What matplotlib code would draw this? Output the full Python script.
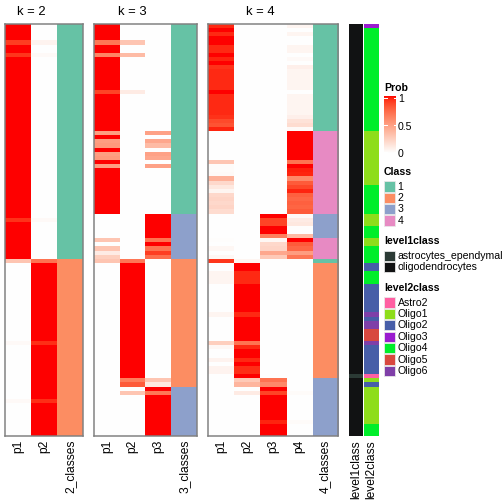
import numpy as np
import matplotlib
matplotlib.use("Agg")
import matplotlib.pyplot as plt
from matplotlib.patches import Rectangle

plt.rcParams['font.family'] = ['Liberation Sans', 'DejaVu Sans']

# ---------------- data (run-length: (value, number of rows)) ----------------
k2_p1 = [(1, 4), (0.9, 1), (1, 2), (0.92, 1), (1, 39), (0.93, 1), (1, 9), (0.3, 1),
         (0, 19), (0.03, 1), (0, 13), (0.03, 1), (0, 8)]
k2_p2 = [(0, 4), (0.06, 1), (0, 2), (0.03, 1), (0, 39), (0.03, 1), (0, 9), (0.7, 1),
         (1, 19), (0.94, 1), (1, 13), (0.94, 1), (1, 8)]
k2_class = [(1, 57), (2, 43)]

k3_p1 = [(1, 4), (0.68, 1), (1, 2), (0.62, 1), (1, 8), (0.88, 1), (1, 9), (0.5, 1), (1, 1),
         (0.5, 1), (0.52, 1), (1, 1), (0.5, 1), (0.52, 1), (1, 1), (0.5, 1), (1, 11), (0, 6),
         (0.3, 1), (0, 1), (0.3, 1), (0.1, 1), (0.25, 1), (0.3, 1), (0, 42)]
k3_p2 = [(0, 4), (0.3, 1), (0, 2), (0.35, 1), (0, 8), (0.1, 1), (0, 40), (0.68, 1), (1, 28),
         (0.65, 1), (0.8, 1), (0, 1), (0.3, 1), (0, 10)]
k3_p3 = [(0, 26), (0.48, 1), (0, 1), (0.45, 1), (0.35, 1), (0, 1), (0.48, 1), (0.45, 1), (0, 1),
         (0.48, 1), (0, 11), (1, 6), (0.7, 1), (1, 1), (0.7, 1), (0.9, 1), (0.72, 1), (0, 29),
         (0.3, 1), (0.12, 1), (1, 1), (0.68, 1), (1, 10)]
k3_class = [(1, 46), (3, 11), (2, 31), (3, 12)]

k4_p1 = [(0.95, 1), (1, 1), (0.95, 1), (1, 2), (0.95, 2), (1, 1), (0.96, 1), (1, 1), (0.93, 1),
         (0.95, 5), (1, 1), (0.95, 5), (0.93, 1), (0.86, 1), (0.83, 1), (0.96, 1),
         (0, 7), (0.3, 1), (0.02, 2), (0.03, 1), (0.4, 1), (0.2, 1), (0.12, 1), (0.05, 1),
         (0.2, 1), (0.22, 1), (0.2, 1), (0.22, 1), (0.18, 1),
         (0, 6), (0.01, 1), (0, 1), (0.04, 1), (0, 1), (0.04, 1), (0.92, 1), (0, 2), (0.05, 3),
         (0, 7), (0.05, 1), (0, 6), (0.25, 1), (0.04, 1), (0, 2), (0.06, 1), (0, 1), (0.06, 2),
         (0, 15)]
k4_p2 = [(0, 57), (0.05, 1), (1, 2), (0.95, 3), (1, 7), (0.95, 1), (1, 6), (0.7, 1), (0.95, 1),
         (1, 2), (0.95, 1), (1, 1), (0.94, 2), (1, 1), (0.28, 1), (0.38, 1), (0, 1), (0.1, 1),
         (0, 10)]
k4_p3 = [(0, 46), (1, 1), (0.88, 2), (1, 2), (0.65, 1), (0.04, 1), (0.2, 1), (0.22, 1),
         (0.45, 1), (0.28, 1), (0, 29), (0.7, 1), (0.6, 1), (1, 1), (0.88, 1), (1, 6),
         (0.96, 1), (1, 3)]
k4_p4 = [(0.05, 1), (0, 1), (0.05, 1), (0, 2), (0.05, 2), (0, 1), (0.03, 1), (0, 1), (0.08, 1),
         (0.05, 5), (0, 1), (0.05, 5), (0.08, 1), (0.15, 1), (0.18, 1), (0.03, 1),
         (1, 7), (0.7, 1), (1, 1), (0.97, 1), (0.96, 1), (0.6, 1), (0.8, 1), (0.87, 1),
         (0.96, 1), (0.78, 1), (0.75, 1), (0.78, 1), (0.76, 1), (0.8, 1),
         (0.03, 1), (0.1, 1), (0.12, 1), (0.01, 1), (0, 1), (0.35, 1),
         (1, 1), (0.8, 1), (0.75, 1), (0.5, 1), (0.68, 1),
         (0, 32), (0.02, 1), (0, 6), (0.02, 1), (0, 3)]
k4_class = [(1, 26), (4, 20), (3, 6), (4, 5), (1, 1), (2, 28), (3, 14)]

level1 = [("oligodendrocytes", 85), ("astrocytes_ependymal", 1), ("oligodendrocytes", 14)]
level2 = [("Oligo3", 1), ("Oligo4", 25), ("Oligo1", 13), ("Oligo4", 7), ("Oligo1", 3),
          ("Oligo4", 3), ("Oligo1", 2), ("Oligo4", 4), ("Oligo2", 2), ("Oligo4", 3),
          ("Oligo2", 7), ("Oligo6", 1), ("Oligo2", 1), ("Oligo6", 2), ("Oligo5", 3),
          ("Oligo6", 1), ("Oligo2", 7), ("Astro2", 1), ("Oligo1", 1), ("Oligo2", 1),
          ("Oligo1", 9), ("Oligo4", 3)]

class_labels = ["1", "2", "3", "4"]
level1_labels = ["astrocytes_ependymal", "oligodendrocytes"]
level2_labels = ["Astro2", "Oligo1", "Oligo2", "Oligo3", "Oligo4", "Oligo5", "Oligo6"]

# ---------------- styles ----------------
class_colors = {1: "#66C2A5", 2: "#FC8D62", 3: "#8DA0CB", 4: "#E78AC3"}
level1_colors = {"astrocytes_ependymal": "#2B3A35", "oligodendrocytes": "#111213"}
level2_colors = {"Astro2": "#FF5FA2", "Oligo1": "#8EDD1B", "Oligo2": "#475EA8",
                 "Oligo3": "#9A1BCF", "Oligo4": "#00EE2A", "Oligo5": "#D8483F",
                 "Oligo6": "#7F3FA8"}


def expand(pairs):
    return [v for v, n in pairs for _ in range(n)]


# white -> red colour ramp interpolated in CIE Lab (like colorRamp2)
_M = np.array([[0.4124, 0.3576, 0.1805], [0.2126, 0.7152, 0.0722], [0.0193, 0.1192, 0.9505]])
_WP = _M.sum(1)


def _lin(c):
    c = np.asarray(c, float)
    return np.where(c <= 0.04045, c / 12.92, ((c + 0.055) / 1.055) ** 2.4)


def _gam(c):
    c = np.clip(c, 0, 1)
    return np.where(c <= 0.0031308, 12.92 * c, 1.055 * c ** (1 / 2.4) - 0.055)


def _f(t):
    d = 6 / 29
    return np.where(t > d ** 3, np.cbrt(t), t / (3 * d * d) + 4 / 29)


def _finv(t):
    d = 6 / 29
    return np.where(t > d, t ** 3, 3 * d * d * (t - 4 / 29))


def to_lab(rgb):
    xyz = _M @ _lin(rgb) / _WP
    fx, fy, fz = _f(xyz)
    return np.array([116 * fy - 16, 500 * (fx - fy), 200 * (fy - fz)])


def prob_color(v):
    v = np.atleast_1d(np.asarray(v, float))
    l0 = to_lab([1, 1, 1])
    l1 = to_lab([1, 0, 0])
    lab = l0[:, None] * (1 - v) + l1[:, None] * v
    L, a, b = lab
    fy = (L + 16) / 116
    xyz = np.array([_finv(fy + a / 500), _finv(fy), _finv(fy - b / 200)]) * _WP[:, None]
    rgb = np.linalg.solve(_M, xyz)
    return _gam(rgb).T


def hexrgb(h):
    h = h.lstrip("#")
    return [int(h[i:i + 2], 16) / 255 for i in (0, 2, 4)]


W = H = 504
fig = plt.figure(figsize=(7, 7), dpi=72)
TOP, BOT = 24, 436


def ax_px(x0, x1, y0, y1):
    return fig.add_axes([x0 / W, 1 - y1 / H, (x1 - x0) / W, (y1 - y0) / H])


panels = [
    ("k = 2", [k2_p1, k2_p2], k2_class, ["p1", "p2", "2_classes"], 5, 83),
    ("k = 3", [k3_p1, k3_p2, k3_p3], k3_class, ["p1", "p2", "p3", "3_classes"], 94, 197),
    ("k = 4", [k4_p1, k4_p2, k4_p3, k4_p4], k4_class, ["p1", "p2", "p3", "p4", "4_classes"], 208, 338),
]

for title, probs, cls, labels, x0, x1 in panels:
    cols = [prob_color(expand(p)) for p in probs]
    cols.append(np.array([hexrgb(class_colors[c]) for c in expand(cls)]))
    img = np.stack(cols, axis=1)
    n = img.shape[0]
    nc = img.shape[1]
    ax = ax_px(x0, x1, TOP, BOT)
    ax.imshow(img, aspect="auto", interpolation="nearest", extent=(0, nc, n, 0))
    ax.set_xlim(0, nc)
    ax.set_ylim(n, 0)
    ax.set_yticks([])
    ax.set_xticks(np.arange(nc) + 0.5)
    ax.set_xticklabels(labels, rotation=90, fontsize=12)
    ax.tick_params(axis="x", length=0, pad=4)
    for s in ax.spines.values():
        s.set_color("#808080")
        s.set_linewidth(1.5)
    # title centred over the probability columns
    xc = x0 + (x1 - x0) * (nc - 1) / nc / 2
    fig.text(xc / W, 1 - 12 / H, title, ha="center", va="center", fontsize=13)

for name, runs_, cmap_, x0, x1 in [
    ("level1class", level1, level1_colors, 349, 363),
    ("level2class", level2, level2_colors, 364, 379),
]:
    img = np.array([hexrgb(cmap_[v]) for v in expand(runs_)])[:, None, :]
    ax = ax_px(x0, x1, TOP, BOT)
    ax.imshow(img, aspect="auto", interpolation="nearest", extent=(0, 1, img.shape[0], 0))
    ax.set_yticks([])
    ax.set_xticks([0.5])
    ax.set_xticklabels([name], rotation=90, fontsize=12)
    ax.tick_params(axis="x", length=0, pad=4)
    for s in ax.spines.values():
        s.set_visible(False)

# ---------------- legends ----------------
lg = fig.add_axes([0, 0, 1, 1])
lg.set_xlim(0, W)
lg.set_ylim(H, 0)
lg.axis("off")
lg.patch.set_visible(False)

LX = 384
FS = 10.5
lg.text(LX, 88, "Prob", fontsize=FS, fontweight="bold", va="center", ha="left")
grad = prob_color(np.linspace(1, 0, 200))[:, None, :]
lg.imshow(grad, extent=(LX, LX + 12, 153, 96), aspect="auto", interpolation="bilinear")
for yv in (98, 125, 152):
    lg.plot([LX, LX + 2.5], [yv, yv], color="white", lw=1)
    lg.plot([LX + 9.5, LX + 12], [yv, yv], color="white", lw=1)
for yv, lab in [(99.5, "1"), (127.5, "0.5"), (154, "0")]:
    lg.text(LX + 14, yv, lab, fontsize=FS, va="center", ha="left")
lg.set_xlim(0, W)
lg.set_ylim(H, 0)


def legend_block(title, ty, labels, colors, y0, step):
    lg.text(LX, ty, title, fontsize=FS, fontweight="bold", va="center", ha="left")
    for i, lab in enumerate(labels):
        y = y0 + i * step
        lg.add_patch(Rectangle((LX, y), 11, 10.3, facecolor=colors[i],
                               edgecolor="#e8e8e8", lw=0.8))
        lg.text(LX + 13.5, y + 5.4, lab, fontsize=FS, va="center", ha="left")


legend_block("Class", 172, class_labels, [class_colors[int(c)] for c in class_labels], 181.3, 11.3)
legend_block("level1class", 241, level1_labels, [level1_colors[c] for c in level1_labels], 250.5, 11.3)
legend_block("level2class", 288, level2_labels, [level2_colors[c] for c in level2_labels], 297.3, 11.4)

fig.savefig("out.png", dpi=72)
